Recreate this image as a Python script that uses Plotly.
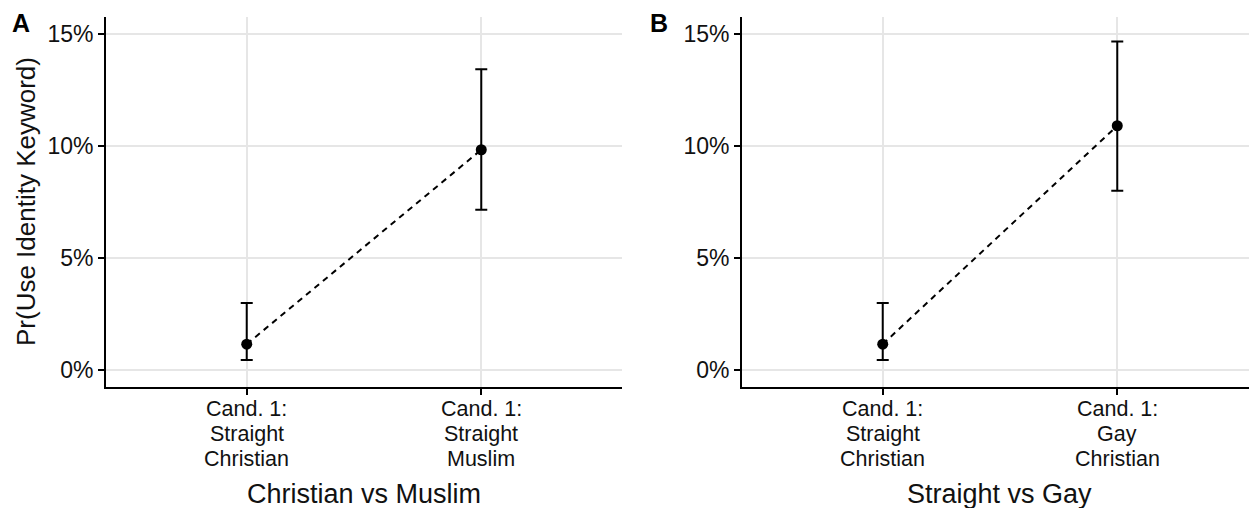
import plotly.graph_objects as go

# ---- data (percent) ----
positions = [1, 2]

labels_a = ["Cand. 1:\nStraight\nChristian", "Cand. 1:\nStraight\nMuslim"]
est_a = [1.16, 9.83]
low_a = [0.45, 7.15]
high_a = [3.00, 13.42]

labels_b = ["Cand. 1:\nStraight\nChristian", "Cand. 1:\nGay\nChristian"]
est_b = [1.16, 10.90]
low_b = [0.45, 8.00]
high_b = [3.00, 14.66]

y_ticks = [0, 5, 10, 15]
y_tick_text = ["0%", "5%", "10%", "15%"]
x_title_a = "Christian vs Muslim"
x_title_b = "Straight vs Gay"
y_title = "Pr(Use Identity Keyword)"

# ---- geometry (pixels) ----
W, H = 1249, 508
FONT = "Liberation Sans, Arial, Helvetica, sans-serif"
TXT = "#111111"
GRID = "#e6e6e6"
plot_top, plot_bottom = 17, 387
a_left, a_right = 106, 622
b_left = 742
unit_px = (a_right - a_left) / 2.2

y_dom = [1 - plot_bottom / H, 1 - plot_top / H]

fig = go.Figure()

panels = [
    ("x", "y", est_a, low_a, high_a),
    ("x2", "y2", est_b, low_b, high_b),
]
for xa, ya, est, lo, hi in panels:
    fig.add_trace(go.Scatter(
        x=positions, y=est, mode="lines",
        line=dict(color="black", width=2, dash="6px,5px"),
        xaxis=xa, yaxis=ya, hoverinfo="skip", showlegend=False,
    ))
    fig.add_trace(go.Scatter(
        x=positions, y=est, mode="markers",
        marker=dict(color="black", size=11),
        error_y=dict(
            type="data", symmetric=False,
            array=[h - e for h, e in zip(hi, est)],
            arrayminus=[e - l for e, l in zip(est, lo)],
            color="black", thickness=2, width=6,
        ),
        xaxis=xa, yaxis=ya, showlegend=False,
    ))

common_x = dict(
    tickvals=positions, showticklabels=False,
    ticks="outside", ticklen=6, tickwidth=1.6, tickcolor="black",
    showline=True, linecolor="black", linewidth=1.8,
    showgrid=True, gridcolor=GRID, gridwidth=1.6,
    zeroline=False, fixedrange=True,
)
common_y = dict(
    range=[-0.75, 15.75], domain=y_dom,
    tickmode="array", tickvals=y_ticks, ticktext=y_tick_text,
    tickfont=dict(family=FONT, size=23, color=TXT),
    ticks="outside", ticklen=6, tickwidth=1.6, tickcolor="black",
    showline=True, linecolor="black", linewidth=1.8,
    showgrid=True, gridcolor=GRID, gridwidth=1.6,
    zeroline=False, fixedrange=True,
)

fig.update_layout(
    width=W, height=H, autosize=False,
    margin=dict(l=0, r=0, t=0, b=0),
    paper_bgcolor="white", plot_bgcolor="white",
    showlegend=False,
    xaxis=dict(common_x, domain=[a_left / W, a_right / W], range=[0.4, 2.6], anchor="y"),
    yaxis=dict(common_y, anchor="x"),
    xaxis2=dict(common_x, domain=[b_left / W, 1.0],
                range=[0.4, 0.4 + (W - b_left) / unit_px], anchor="y2"),
    yaxis2=dict(common_y, anchor="x2"),
)

annotations = []
y_base = y_dom[0]
line_gap = 25
for xref, labels, title in [("x", labels_a, x_title_a), ("x2", labels_b, x_title_b)]:
    # category labels, one annotation per line for tight line spacing
    for pos, lab in zip(positions, labels):
        for i, line in enumerate(lab.split("\n")):
            annotations.append(dict(
                x=pos, xref=xref, y=y_base, yref="paper",
                yanchor="middle", xanchor="center",
                yshift=-(21.5 + i * line_gap), borderpad=0,
                text=line, showarrow=False,
                font=dict(family=FONT, size=21.5, color=TXT),
            ))
    annotations.append(dict(
        x=1.5, xref=xref, y=y_base, yref="paper",
        yanchor="middle", xanchor="center", yshift=-107, borderpad=0,
        text=title, showarrow=False,
        font=dict(family=FONT, size=27, color=TXT),
    ))

annotations.append(dict(
    x=26 / W, xref="paper", y=1 - (plot_top + plot_bottom) / 2 / H, yref="paper",
    xanchor="center", yanchor="middle", textangle=-90,
    text=y_title, showarrow=False,
    font=dict(family=FONT, size=26, color=TXT),
))
for letter, cx in [("A", 21), ("B", 659)]:
    annotations.append(dict(
        x=cx / W, xref="paper", y=1 - 23 / H, yref="paper",
        xanchor="center", yanchor="middle",
        text="<b>%s</b>" % letter, showarrow=False,
        font=dict(family=FONT, size=25, color="black"),
    ))

fig.update_layout(annotations=annotations)
fig.write_html("out.html")
